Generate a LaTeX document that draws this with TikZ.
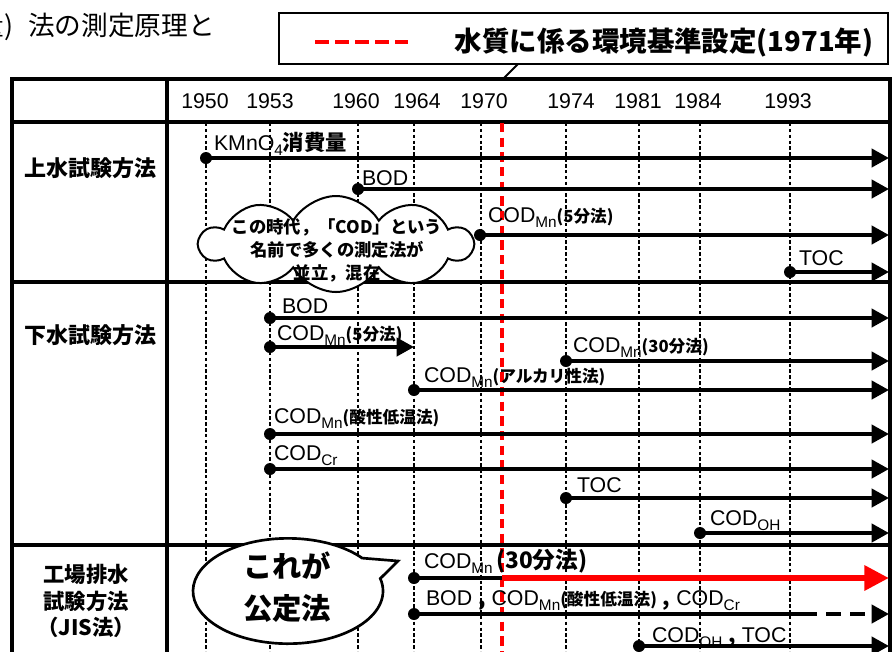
\documentclass[tikz,border=0pt]{standalone}
\usepackage{fontspec}
\setmainfont{Liberation Sans}
\newfontfamily\jp{Noto Sans CJK JP}
\usetikzlibrary{arrows.meta,shapes.symbols,shapes.callouts}
\newcommand\jb[1]{{\jp\bfseries #1}}
\newcommand\jbs[1]{{\jp\bfseries\fontsize{12.5}{14}\selectfont #1}}
\newcommand\subx[1]{\raisebox{-0.24em}{\fontsize{11.5}{12}\selectfont #1}}
\newcommand\cm{{\jp\bfseries ,}}
\begin{document}
\begin{tikzpicture}[x=0.75pt,y=-0.75pt,
  every node/.style={inner sep=0pt, outer sep=0pt},
  tbl/.style={line width=2.3pt},
  gridline/.style={line width=0.9pt, dash pattern=on 2.6pt off 1.8pt},
  redline/.style={red, line width=2.4pt, dash pattern=on 7pt off 4pt},
  tl/.style={line width=3pt, -{Triangle[length=13pt,width=13.5pt]}},
  tlplain/.style={line width=3pt},
  redarrow/.style={red, line width=5pt, -{Triangle[length=18.5pt,width=18pt]}},
  dashedarrow/.style={line width=3pt, dash pattern=on 11pt off 7pt, -{Triangle[length=13pt,width=13.5pt]}},
  dot/.style={circle, fill=black, minimum size=9pt},
  lbl/.style={anchor=base west, font=\fontsize{16}{18}\selectfont},
  yr/.style={anchor=base, font=\fontsize{16}{18}\selectfont},
  hd/.style={font=\jp\bfseries\fontsize{16.5}{20}\selectfont, align=center},
]
\useasboundingbox (0,0) rectangle (895,651);
\clip (0,0) rectangle (895,651);

% top-left cut text
\node[anchor=east, font=\jp\fontsize{20}{20}\selectfont] (toptext) at (215,27) {量)\hspace{0.55em}法の測定原理と};

% legend box
\node[draw, line width=2pt, minimum width=456.75pt, minimum height=38.25pt] (leg) at (583.5,38.5) {};
\coordinate (la) at (315,42);
\coordinate (lb) at (408,42);
\draw[red, line width=3pt, dash pattern=on 10.5pt off 4.5pt] (la) -- (lb);
\node[font=\jp\bfseries\fontsize{20.6}{22}\selectfont] (legtext) at (664,42) {水質に係る環境基準設定(1971年)};
\coordinate (pa) at (518,64);
\coordinate (pb) at (502,80);
\draw[line width=1.5pt] (pa) -- (pb);

% table
\draw[tbl] (12,660) -- (12,79) -- (890,79) -- (890,660);
\draw[tbl] (12,122) -- (890,122);
\draw[tbl] (167,79) -- (167,660);
\draw[tbl] (12,282) -- (890,282);
\draw[tbl] (12,545) -- (890,545);

% years
\foreach \x/\y in {205/1950,270/1953,356/1960,417/1964,484/1970,571/1974,638/1981,698/1984,788/1993}
  \node[yr] (y\y) at (\x,108) {\y};

% vertical grid lines
\foreach \x in {206,270,358,414,481,566,639,700,790}
  \draw[gridline] (\x,123) -- (\x,651);
\coordinate (r0) at (502,123);
\coordinate (r1) at (502,655);
\draw[redline] (r0) -- (r1);

% row headers
\node[hd] (h1) at (90,168) {上水試験方法};
\node[hd] (h2) at (90,335) {下水試験方法};
\node[hd, font=\jp\bfseries\fontsize{16}{20}\selectfont] (h3) at (86,601) {工場排水\\試験方法\\（JIS法）};

% ---- upper section
\node[dot] (a1) at (206,158) {}; \coordinate (a1e) at (889,158);
\draw[tl] (a1.center) -- (a1e);
\node[lbl] (a1l) at (214,150) {KMnO\subx{4}\jb{消費量}};

\node[dot] (a2) at (358,189) {}; \coordinate (a2e) at (889,189);
\draw[tl] (a2.center) -- (a2e);
\node[lbl] (a2l) at (362,185) {BOD};

\node[dot] (a3) at (480,235) {}; \coordinate (a3e) at (889,235);
\draw[tl] (a3.center) -- (a3e);
\node[lbl] (a3l) at (488,222) {COD\subx{Mn}\jbs{(5分法)}};

\node[dot] (a4) at (790,272) {}; \coordinate (a4e) at (889,272);
\draw[tl] (a4.center) -- (a4e);
\node[lbl] (a4l) at (799,265) {TOC};

% ---- sewage section
\node[dot] (b1) at (270,318) {}; \coordinate (b1e) at (889,318);
\draw[tl] (b1.center) -- (b1e);
\node[lbl] (b1l) at (282,313) {BOD};

\node[dot] (b2) at (270,347) {}; \coordinate (b2e) at (414,347);
\draw[tl] (b2.center) -- (b2e);
\node[lbl] (b2l) at (277,340) {COD\subx{Mn}\jbs{(5分法)}};

\node[dot] (b3) at (566,361) {}; \coordinate (b3e) at (889,361);
\draw[tl] (b3.center) -- (b3e);
\node[lbl] (b3l) at (573,352) {COD\subx{Mn}\jbs{(30分法)}};

\node[dot] (b4) at (414,390) {}; \coordinate (b4e) at (889,390);
\draw[tl] (b4.center) -- (b4e);
\node[lbl] (b4l) at (424,382) {COD\subx{Mn}\jbs{(アルカリ性法)}};

\node[dot] (b5) at (270,434) {}; \coordinate (b5e) at (889,434);
\draw[tl] (b5.center) -- (b5e);
\node[lbl] (b5l) at (274,423) {COD\subx{Mn}\jbs{(酸性低温法)}};

\node[dot] (b6) at (270,469) {}; \coordinate (b6e) at (889,469);
\draw[tl] (b6.center) -- (b6e);
\node[lbl] (b6l) at (274,460) {COD\subx{Cr}};

\node[dot] (b7) at (566,498) {}; \coordinate (b7e) at (889,498);
\draw[tl] (b7.center) -- (b7e);
\node[lbl] (b7l) at (577,492) {TOC};

\node[dot] (b8) at (700,533) {}; \coordinate (b8e) at (889,533);
\draw[tl] (b8.center) -- (b8e);
\node[lbl] (b8l) at (710,525) {COD\subx{OH}};

% ---- industrial section
\node[dot] (c1) at (414,578) {}; \coordinate (c1m) at (502,578); \coordinate (c1e) at (889,578);
\draw[tlplain] (c1.center) -- (c1m);
\draw[redarrow] (c1m) -- (c1e);
\node[lbl] (c1l) at (424,568) {COD\subx{Mn}\,{\jp\bfseries\fontsize{17}{18}\selectfont (30分法)}};

\node[dot] (c2) at (414,614) {}; \coordinate (c2m) at (802,614); \coordinate (c2e) at (889,614);
\draw[tlplain] (c2.center) -- (c2m);
\draw[dashedarrow] (c2m) -- (c2e);
\node[lbl] (c2l) at (426,605) {BOD \cm\ COD\subx{Mn}\jbs{(酸性低温法)} \cm\ COD\subx{Cr}};

\node[dot] (c3) at (639,646) {}; \coordinate (c3e) at (889,646);
\draw[tl] (c3.center) -- (c3e);
\node[lbl] (c3l) at (652,642) {COD\subx{OH} \cm\ TOC};

% cloud
\node[cloud, draw, fill=white, line width=1.5pt, cloud puffs=10, cloud puff arc=120,
      minimum width=204pt, minimum height=72pt] (cl) at (336,244) {};
\node[font=\jp\bfseries\fontsize{13}{17.25}\selectfont, align=center] (clt) at (337,250)
  {この時代，「COD」という\\名前で多くの測定法が\\並立，混在};

% speech bubble
\node[ellipse callout, draw, fill=white, line width=2pt,
      minimum width=142.5pt, minimum height=79pt,
      callout absolute pointer={(398,561)}, callout pointer arc=25] (bb) at (288,591) {};
\node[font=\jp\bfseries\fontsize{22}{31}\selectfont, align=center] (bbt) at (287,587) {これが\\公定法};
\end{tikzpicture}
\end{document}
